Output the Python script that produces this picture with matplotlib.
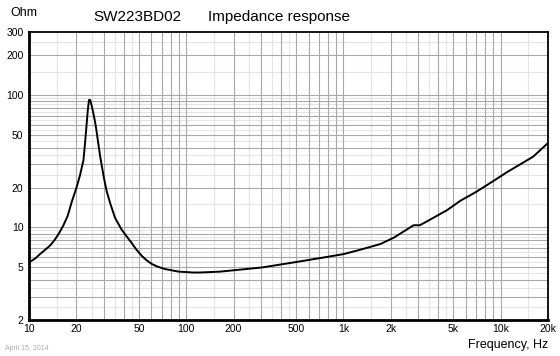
import matplotlib
matplotlib.use("Agg")
import matplotlib.pyplot as plt
import numpy as np

plt.rcParams['font.family'] = ['Liberation Sans', 'DejaVu Sans']

# Impedance curve (Hz, Ohm)
freq = [10, 11.0, 11.75, 12.7, 13.6, 14.5, 15.4, 16.5, 17.6, 18.7, 20.1, 21.1, 22.2, 22.7, 23.3,
        23.7, 24.1, 24.5, 25.0, 25.6, 26.3, 26.8, 27.6, 28.3, 29.0, 30.0, 31.2, 32.8, 35.3,
        38.9, 42.0, 45.1, 48.0, 52.2, 56.0, 60.4, 66.0, 73.5, 89.6,
        111, 122, 164, 304, 508, 752, 1005, 1283, 1717, 2100, 2475, 2795, 3060, 3340,
        4550, 5530, 7050, 8850, 10980, 16100, 20000]
imped = [5.45, 5.85, 6.3, 6.8, 7.3, 8.0, 8.9, 10.3, 12.2, 15.6, 20.2, 24.8, 32.2, 43, 62,
         79, 92, 92, 84, 74, 63, 55, 43, 35, 29.5, 23.5, 18.8, 15.3, 11.8,
         9.6, 8.5, 7.6, 6.85, 6.1, 5.65, 5.3, 5.05, 4.85, 4.64,
         4.57, 4.57, 4.64, 4.99, 5.5, 5.94, 6.3, 6.8, 7.5, 8.4, 9.5, 10.4, 10.4, 11.0,
         13.5, 15.9, 18.7, 22.2, 26.2, 34.3, 43.5]

x_ticks = [10, 20, 50, 100, 200, 500, 1000, 2000, 5000, 10000, 20000]
x_labels = ['10', '20', '50', '100', '200', '500', '1k', '2k', '5k', '10k', '20k']
y_ticks = [2, 5, 10, 20, 50, 100, 200, 300]
y_labels = ['2', '5', '10', '20', '50', '100', '200', '300']

W, H = 560, 356
fig = plt.figure(figsize=(W / 100, H / 100), dpi=100)
ax = fig.add_axes([29 / W, 1 - 320 / H, (548 - 29) / W, (320 - 32) / H])
ax.set_xscale('log')
ax.set_yscale('log')
ax.set_xlim(10, 20000)
ax.set_ylim(2, 300)

dark = '#a8a8a8'
light = '#e4e4e4'
for dec in [10, 100, 1000, 10000]:
    for m in [1.5, 2.5, 3.5, 4.5]:
        v = m * dec
        if 10 < v < 20000:
            ax.axvline(v, color=light, lw=0.8, zorder=0)
    for m in range(1, 10):
        v = m * dec
        if 10 < v < 20000:
            ax.axvline(v, color=dark, lw=0.8, zorder=1)
for dec in [1, 10, 100]:
    for m in [1.5, 2.5, 3.5, 4.5, 5.5, 6.5, 7.5, 8.5, 9.5]:
        v = m * dec
        if 2 < v < 300:
            ax.axhline(v, color=light, lw=0.8, zorder=0)
    for m in range(1, 10):
        v = m * dec
        if 2 < v < 300:
            ax.axhline(v, color=dark, lw=0.8, zorder=1)

ax.plot(freq, imped, color='black', lw=1.4, zorder=3, solid_joinstyle='round')

ax.set_xticks(x_ticks)
ax.set_xticklabels(x_labels)
ax.set_yticks(y_ticks)
ax.set_yticklabels(y_labels)
ax.minorticks_off()
ax.tick_params(axis='both', length=0, labelsize=7.5, colors='black')
ax.tick_params(axis='x', pad=3)
ax.tick_params(axis='y', pad=4)

for s in ['left', 'bottom']:
    ax.spines[s].set_linewidth(2.0)
for s in ['top', 'right']:
    ax.spines[s].set_linewidth(1.3)
for s in ax.spines.values():
    s.set_zorder(5)

fig.text(10 / W, 1 - 13 / H, 'Ohm', fontsize=9, ha='left', va='center')
fig.text(137 / W, 1 - 17 / H, 'SW223BD02', fontsize=11, ha='center', va='center')
fig.text(208 / W, 1 - 17 / H, 'Impedance response', fontsize=11, ha='left', va='center')
fig.text(548 / W, 1 - 345 / H, 'Frequency, Hz', fontsize=9, ha='right', va='center')
fig.text(5 / W, 1 - 349 / H, 'April 15, 2014', fontsize=5, ha='left', va='center', color='#aaaaaa')

fig.savefig('out.png', dpi=100)
